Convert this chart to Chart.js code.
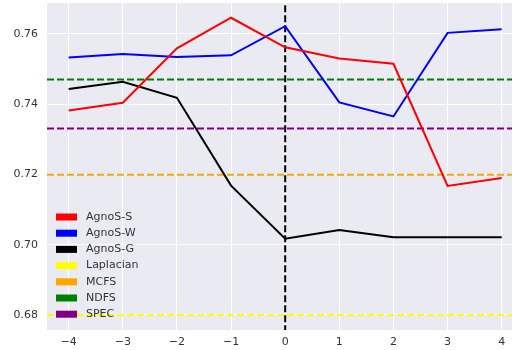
<!DOCTYPE html>
<html>
<head>
<meta charset="utf-8">
<script src="https://cdn.jsdelivr.net/npm/chart.js@4"></script>
<style>
  html, body { margin: 0; padding: 0; background: #fff; overflow: hidden; }
  #wrap { width: 512px; height: 350px; }
</style>
</head>
<body>
<div id="wrap"><canvas id="sensChart" width="512" height="350"></canvas></div>
<script>
// shift values on the x axis
const shifts = [-4, -3, -2, -1, 0, 1, 2, 3, 4];

// scores of the three AgnoS variants
const agnosS = [0.7382, 0.7404, 0.7559, 0.7646, 0.7562, 0.7530, 0.7515, 0.7167, 0.7190];
const agnosW = [0.7533, 0.7543, 0.7534, 0.7539, 0.7622, 0.7405, 0.7365, 0.7603, 0.7613];
const agnosG = [0.7443, 0.7464, 0.7418, 0.7168, 0.7017, 0.7042, 0.7021, 0.7021, 0.7021];

// flat baselines
const baselineNames = ['Laplacian', 'MCFS', 'NDFS', 'SPEC'];
const baselineValues = [0.6800, 0.7199, 0.7470, 0.7331];

const yTicks = [0.68, 0.70, 0.72, 0.74, 0.76];

const xMin = -4.4, xMax = 4.19;
const yMin = 0.6757, yMax = 0.7688;

const legendNames = ['AgnoS-S', 'AgnoS-W', 'AgnoS-G', 'Laplacian', 'MCFS', 'NDFS', 'SPEC'];
const legendColors = ['#ff0000', '#0000ff', '#000000', '#ffff00', '#ffa500', '#008000', '#800080'];

const font = { family: 'DejaVu Sans', size: 11 };
const textColor = '#333333';

function series(values, color) {
  return {
    data: shifts.map((x, i) => ({ x: x, y: values[i] })),
    borderColor: color,
    borderWidth: 2,
    pointRadius: 0,
    tension: 0,
    fill: false
  };
}

function baseline(value, color) {
  return {
    data: [{ x: xMin, y: value }, { x: xMax + 1, y: value }],
    borderColor: color,
    borderWidth: 2,
    borderDash: [7, 3],
    pointRadius: 0,
    fill: false
  };
}

const datasets = [
  series(agnosS, legendColors[0]),
  series(agnosW, legendColors[1]),
  series(agnosG, legendColors[2])
];
baselineValues.forEach((v, i) => datasets.push(baseline(v, legendColors[3 + i])));
// marker at zero shift
datasets.push({
  data: [{ x: 0, y: yMin - 1 }, { x: 0, y: yMax + 1 }],
  borderColor: '#000000',
  borderWidth: 2,
  borderDash: [7, 3],
  pointRadius: 0,
  fill: false
});

// grey panel behind the plot
const panelBg = {
  id: 'panelBg',
  beforeDraw(chart) {
    const a = chart.chartArea, c = chart.ctx;
    c.save();
    c.fillStyle = '#eaeaf2';
    c.fillRect(a.left, a.top, a.right - a.left, a.bottom - a.top);
    c.restore();
  }
};

// legend of colour patches in the lower left
const patchLegend = {
  id: 'patchLegend',
  afterDraw(chart) {
    const c = chart.ctx;
    c.save();
    c.font = font.size + 'px ' + font.family;
    c.textBaseline = 'middle';
    legendNames.forEach((name, i) => {
      const y = 217 + i * 16.2;
      c.fillStyle = legendColors[i];
      c.fillRect(56, y - 3.5, 21, 7);
      c.fillStyle = textColor;
      c.fillText(name, 86, y);
    });
    c.restore();
  }
};

// keep the plot flush with the canvas edges
function noScalePadding(scale) {
  scale.paddingTop = 0;
  scale.paddingBottom = 0;
  scale.paddingLeft = 0;
  scale.paddingRight = 0;
}

const ctx = document.getElementById('sensChart').getContext('2d');
const sensChart = new Chart(ctx, {
  type: 'line',
  data: { datasets: datasets },
  options: {
    responsive: false,
    animation: false,
    layout: { autoPadding: false, padding: { top: 3, right: 0, left: 0, bottom: 0 } },
    plugins: { legend: { display: false }, tooltip: { enabled: false } },
    scales: {
      x: {
        type: 'linear',
        min: xMin,
        max: xMax,
        afterBuildTicks(scale) { scale.ticks = shifts.map(v => ({ value: v })); },
        afterFit(scale) { scale.height = 20; noScalePadding(scale); },
        grid: { color: '#ffffff', lineWidth: 1, drawTicks: false },
        border: { display: false },
        ticks: {
          font: font,
          color: textColor,
          padding: 6,
          maxRotation: 0,
          callback: v => String(v).replace('-', '\u2212')
        }
      },
      y: {
        min: yMin,
        max: yMax,
        afterBuildTicks(scale) { scale.ticks = yTicks.map(v => ({ value: v })); },
        afterFit(scale) { scale.width = 47; noScalePadding(scale); },
        grid: { color: '#ffffff', lineWidth: 1, drawTicks: false },
        border: { display: false },
        ticks: {
          font: font,
          color: textColor,
          padding: 9,
          callback: v => v.toFixed(2)
        }
      }
    }
  },
  plugins: [panelBg, patchLegend]
});
</script>
</body>
</html>
